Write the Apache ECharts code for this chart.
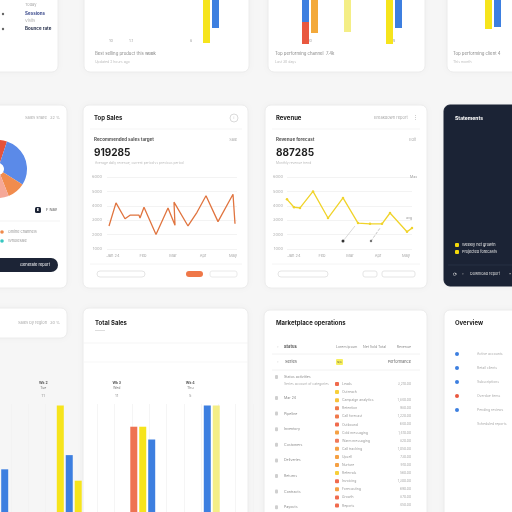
<!DOCTYPE html>
<html><head><meta charset="utf-8">
<script src="https://cdn.jsdelivr.net/npm/echarts@6/dist/echarts.min.js"></script>
<style>html,body{margin:0;padding:0;background:#f6f6f6}#c{width:512px;height:512px}</style>
</head><body><div id="c"></div>
<script>
// ---------- data ----------
const salesX = [0.4,1.8,3.6,4.6,6.4,6.6,7.4,9.8,12.2,13.6,13.4,16.2,18,19.8,22.2,25.2,25.6];
const salesY = [2600,4200,3100,3350,3350,3150,3900,2000,3850,2650,4250,2600,3550,4700,2900,4800,2750];
const salesMonths = ['Jan 24','Feb','Mar','Apr','May'];

const revenueX = [0,1.4,2.6,5.2,8.2,11.2,14.2,16.6,19,20.6,24,25];
const revenueY = [4450,3900,3850,5000,3150,4550,2800,2750,2750,3500,2200,2450];
const revenueMonths = ['Jan 24','Feb','Mar','Apr','May'];
const noteA = [[11.2,1550],[13.6,2600]];
const noteB = [[16.8,1550],[18.6,2450]];

const weekCats = ['Wk 1','Wk 2','Wk 3','Wk 4'];
const weekSubs = ['Mon','Tue','Wed','Thu'];
const weekNotes = ['10','11','11','5'];
const weekA = [70, 99, 84, 99];
const weekB = [null, 64, 84, 99];
const weekC = [54, 46, 75, null];

const topBCats = ['10','1.1','','','8','',''];
const topBLeft = [null,null,null,null,null,43,null];
const topBRight = [null,null,null,null,null,28,null];
const topCCats = ['10','','9'];
const topCLeft = [22,32,44];
const topCStack = [22,null,null];
const topCRight = [33,null,28];
const topDCats = [''];
const topDLeft = [29];
const topDRight = [27];

const pieNames = ['Direct','Online','Retail','Partners','Other'];
const pieVals = [5, 29, 10, 7, 49];

// ---------- styles ----------
const BLUE = '#3d7fe0', YELLOW = '#f6e41c', ORANGE = '#ee7352', PALE = '#f4ee86', AMBER = '#f3a93a', RED = '#e9583f';
const weekAColors = [BLUE, YELLOW, ORANGE, BLUE];
const weekBColors = [BLUE, BLUE, YELLOW, PALE];
const weekCColors = [BLUE, YELLOW, BLUE, YELLOW];
const topCLeftColors = [BLUE, PALE, YELLOW];
const topCRightColors = [AMBER, AMBER, BLUE];
const pieColors = ['#e5533b','#5b8ae8','#f18c4e','#f5a898','#f8cdb8'];
const FONT = 'Inter, "Noto Sans", sans-serif';

// ---------- graphic helpers ----------
const G = [];
function card(x,y,w,h,fill,stroke,r){G.push({type:'rect',z:-10,shape:{x:x,y:y,width:w,height:h,r:r==null?6:r},style:{fill:fill||'#ffffff',stroke:stroke||'#ececec',lineWidth:1,shadowBlur:8,shadowColor:'rgba(0,0,0,0.035)'}});}
function box(x,y,w,h,fill,stroke,r){G.push({type:'rect',z:40,shape:{x:x,y:y,width:w,height:h,r:r||0},style:{fill:fill||'none',stroke:stroke||null,lineWidth:0.8}});}
function t(x,y,text,size,color,weight,align){G.push({type:'text',z:50,x:x,y:y,style:{text:text,fill:color||'#999',font:(weight||'normal')+' '+(size||4.5)+'px '+FONT,textAlign:align||'left',textVerticalAlign:'middle',align:align||'left',verticalAlign:'middle'}});}
function dot(cx,cy,r,fill,stroke){G.push({type:'circle',z:45,shape:{cx:cx,cy:cy,r:r},style:{fill:fill||'none',stroke:stroke||null,lineWidth:0.8}});}
function hline(x1,x2,y,c){G.push({type:'line',z:30,shape:{x1:x1,y1:y,x2:x2,y2:y},style:{stroke:c||'#f0f0f0',lineWidth:0.8}});}

// top row cards
card(-10,-10,68,82); card(84,-10,165,82); card(268,-10,157,82); card(447,-10,80,82);
t(25,5,'Today',4,'#aaa'); t(25,14,'Sessions',4.5,'#3b4a8c','bold'); t(25,21,'Visits',4,'#aaa'); t(25,29,'Bounce rate',4.5,'#2c3550','bold');
dot(3,14,1.2,'#666'); dot(3,29,1.2,'#666');
t(95,54,'Best selling product this week',4.3,'#888'); t(147,54,'1.4k',4,'#aaa');
t(95,62,'Updated 2 hours ago',3.5,'#bbb');
t(275,54,'Top performing channel  7.4k',4.3,'#888'); t(275,62,'Last 30 days',3.5,'#bbb');
t(453,54,'Top performing client 4',4.3,'#888'); t(453,62,'This month',3.5,'#bbb');

// middle row
card(-10,105,77,183);
t(25,118,'Sales share',4,'#aaa'); t(50,118,'32 %',4,'#aaa');
box(35,207,6,6,'#1c2436',null,1.5); t(38,210,'E',4,'#fff','bold','center'); t(46,210,'F Nav',4,'#555');
hline(-10,60,221,'#f0f0f0');
dot(2,232,1.8,'#f08a4b'); t(8,232,'Online channels',3.8,'#999');
dot(2,241,1.8,'#36c6c0'); t(8,241,'Wholesale',3.8,'#999');
box(-10,258,68,14,'#1c2436',null,7); t(35,265,'Generate report',4,'#fff','normal','center');

card(83,105,165,183);
t(94,118,'Top Sales',6,'#222','bold'); dot(234,118,4,null,'#d0d0d0'); t(234,118,'i',3.5,'#bbb','normal','center');
hline(90,242,129,'#f3f3f3');
t(94,140,'Recommended sales target',4.5,'#555','bold'); t(237,140,'Sale',3.8,'#aaa','normal','right');
t(94,153,'919285',10,'#1f1f1f','bold');
t(95,163,'Average daily revenue, current period vs previous period',3.3,'#bbb');
hline(90,242,264,'#f1f1f1');
box(97,271,48,6,'#fff','#dedede',3); box(186,271,17,6,'#ef7748',null,3); box(210,271,27,6,'#fff','#e4e4e4',2);

card(265,105,162,183);
t(276,118,'Revenue',6,'#222','bold'); t(374,118,'Breakdown report',4,'#aaa'); t(413,118,'⋮',4.5,'#aaa');
hline(272,420,129,'#f3f3f3');
t(276,140,'Revenue forecast',4.5,'#555','bold'); t(416,140,'Edit',3.8,'#aaa','normal','right');
t(276,153,'887285',10,'#1f1f1f','bold');
t(276,163,'Monthly revenue trend',3.3,'#bbb');
t(410,177,'Max',3.5,'#999'); t(406,218,'avg',3.5,'#999');
hline(272,420,264,'#f1f1f1');
box(278,271,50,6,'#fff','#dedede',3); box(363,271,14,6,'#fff','#dedede',2); box(382,271,33,6,'#fff','#dedede',2);

card(444,105,80,181,'#1b2335','#1b2335',6);
t(455,118,'Statements',5,'#fff','bold');
box(455,243,4,4,'#f5d90a',null,1); t(462,245,'Weekly net growth',3.8,'#e8e8e8');
box(455,250,4,4,'#f5d90a',null,1); t(462,252,'Projected forecasts',3.8,'#e8e8e8');
hline(448,512,265,'#2a3347');
t(453,274,'⟳',5,'#ddd'); t(462,274,'▫',4.5,'#aaa'); t(470,274,'Download report',3.8,'#ddd'); t(509,274,'▪',4,'#aaa');

// bottom row
card(-10,308,77,30);
t(18,323,'Sales by region',4,'#aaa'); t(50,323,'30 %',4,'#aaa');
card(83,308,165,214);
t(95,323,'Total Sales',6,'#222','bold'); box(95,330,10,1,'#ddd');
hline(83,248,343,'#f2f2f2'); hline(83,248,362,'#f5f5f5');

card(264,310,163,212);
t(276,323,'Marketplace operations',6,'#222','bold');
t(277,347,'▫',4,'#ccc'); t(284,347,'Status',4,'#555','bold');
t(336,347,'Lorem ipsum',3.5,'#888'); t(363,347,'Net Sold',3.5,'#888'); t(378,347,'Total',3.5,'#888'); t(411,347,'Revenue',3.5,'#888','normal','right');
hline(272,420,354,'#efefef');
t(277,362,'▫',4,'#ccc'); t(285,362,'Series',4,'#555');
box(336,359,7,6,'#f7ef5c',null,1); t(339.5,362,'N/A',2.5,'#555','normal','center'); t(411,362,'Performance',3.8,'#666','normal','right');
hline(272,420,370,'#efefef');
const leftRows = ['Status activities','Mar 24','Pipeline','Inventory','Customers','Deliveries','Returns','Contracts','Payouts'];
leftRows.forEach(function(s,i){const y = i===0 ? 377 : 398 + 15.6*(i-1); box(275,y-2,3,4,'#cfcfcf',null,1); t(284,y,s,3.6,'#888');});
t(284,384,'Series account of categories',3.3,'#aaa');
const itemNames = ['Leads','Outreach','Campaign analytics','Retention','Call forecast','Outbound','Cold messaging','Warm messaging','Call tracking','Upsell','Nurture','Referrals','Invoicing','Forecasting','Growth','Reports'];
const itemVals = ['3,210.00','','1,840.00','980.00','1,220.00','640.00','1,410.00','820.00','1,050.00','730.00','910.00','560.00','1,300.00','690.00','870.00','450.00'];
const itemColors = ['#f06a4d','#f7cf3a','#f7c23a','#f0784a','#f0784a','#f06a4d','#f5a043','#f07a5a','#f5a043','#f5a043','#f5a043','#f7cf3a','#f06a4d','#f5a043','#f06a4d','#f06a4d'];
itemNames.forEach(function(s,i){const y = 384 + 8.1*i; box(335,y-2,4,4,itemColors[i],null,1); t(342,y,s,3.4,'#999'); if(itemVals[i]) t(411,y,itemVals[i],3.3,'#aaa','normal','right');});

card(444,310,80,212);
t(455,323,'Overview',6,'#222','bold');
const ovNames = ['Active accounts','Retail clients','Subscriptions','Overdue items','Pending reviews','Scheduled reports'];
const ovColors = [BLUE,BLUE,BLUE,RED,BLUE,null];
ovNames.forEach(function(s,i){const y = 354 + 14*i; if(ovColors[i]) dot(457,y,2,ovColors[i]); t(477,y,s,3.4,'#aaa');});

// ---------- chart ----------
const chart = echarts.init(document.getElementById('c'), null, {renderer:'canvas'});
function lineY(idx, margin){return {gridIndex:idx,type:'value',min:1000,max:6000,interval:1000,axisLine:{show:false},axisTick:{show:false},axisLabel:{fontSize:4,color:'#b0b0b0',margin:margin,fontFamily:FONT,formatter:function(v){return String(v);}},splitLine:{lineStyle:{color:'#f0f0f0',width:0.8}}};}
function catX(idx, data){return {gridIndex:idx,type:'category',data:data,axisLine:{show:false},axisTick:{show:false},axisLabel:{fontSize:4,color:'#aaa',margin:5,fontFamily:FONT,interval:0}};}
function topX(idx, data){return {gridIndex:idx,type:'category',data:data,position:'bottom',axisLine:{show:false,onZero:false},axisTick:{show:false},axisLabel:{fontSize:4,color:'#aaa',margin:3,fontFamily:FONT,interval:0}};}
function topY(idx){return {gridIndex:idx,type:'value',inverse:true,min:0,max:36,show:false};}
function colorFn(arr){return function(p){return arr[p.dataIndex];};}
function bar(xi, data, colors, extra){return Object.assign({type:'bar',xAxisIndex:xi,yAxisIndex:xi,data:data,barWidth:7,barGap:'28%',clip:false,itemStyle:{color:typeof colors==='string'?colors:colorFn(colors)}}, extra||{});}
const GB = {outerBoundsMode:'none', containLabel:false};

chart.setOption({
  backgroundColor:'#f6f6f6',
  animation:false,
  graphic:{elements:G},
  grid:[
    Object.assign({left:107,top:177,width:130,height:72},GB),
    Object.assign({left:98,top:177,width:150,height:72},GB),
    Object.assign({left:287,top:177,width:125,height:72},GB),
    Object.assign({left:280,top:177,width:140,height:72},GB),
    Object.assign({left:-41,top:404,width:294,height:142},GB),
    Object.assign({left:101,top:0,width:140,height:36},GB),
    Object.assign({left:289,top:0,width:126,height:36},GB),
    Object.assign({left:472,top:0,width:42,height:36},GB)
  ],
  xAxis:[
    {gridIndex:0,type:'value',min:0,max:26,show:false},
    catX(1,salesMonths),
    {gridIndex:2,type:'value',min:0,max:25,show:false},
    catX(3,revenueMonths),
    {gridIndex:4,type:'category',data:weekCats,position:'top',axisLine:{show:false},axisTick:{show:false},
      axisLabel:{interval:0,margin:2,padding:[0,52,0,0],fontFamily:FONT,
        formatter:function(v,i){return '{h|'+v+'}\n{s|'+weekSubs[i]+'}\n{n|'+weekNotes[i]+'}';},
        rich:{h:{fontSize:3.5,fontWeight:'bold',color:'#555',lineHeight:5},s:{fontSize:3.5,color:'#777',lineHeight:5},n:{fontSize:4,color:'#999',lineHeight:12}}}},
    topX(5,topBCats), topX(6,topCCats), topX(7,topDCats),
    {gridIndex:4,type:'value',position:'bottom',min:0,max:17,interval:1,axisLine:{show:false},axisTick:{show:false},axisLabel:{show:false},splitLine:{show:true,lineStyle:{color:'#f3f3f3',width:0.8}}}
  ],
  yAxis:[
    lineY(0,5), {gridIndex:1,type:'value',show:false},
    lineY(2,4), {gridIndex:3,type:'value',show:false},
    {gridIndex:4,type:'value',min:0,max:100,show:false},
    topY(5), topY(6), topY(7)
  ],
  series:[
    {type:'line',xAxisIndex:0,yAxisIndex:0,data:salesX.map(function(x,i){return [x,salesY[i]];}),showSymbol:false,lineStyle:{color:'#e0743f',width:1.3},itemStyle:{color:'#e0743f'}},
    {type:'line',xAxisIndex:2,yAxisIndex:2,data:revenueX.map(function(x,i){return [x,revenueY[i]];}),symbol:'circle',symbolSize:2.5,lineStyle:{color:'#f0d32a',width:1.3},itemStyle:{color:'#f0d32a'}},
    {type:'line',xAxisIndex:2,yAxisIndex:2,data:noteA,symbol:'circle',symbolSize:function(v,p){return p.dataIndex===0?3:0;},lineStyle:{color:'#c8c8c8',width:0.7},itemStyle:{color:'#333'}},
    {type:'line',xAxisIndex:2,yAxisIndex:2,data:noteB,symbol:'circle',symbolSize:function(v,p){return p.dataIndex===0?2.5:0;},lineStyle:{color:'#aaa',width:0.7,type:'dashed'},itemStyle:{color:'#777'}},
    bar(4,weekA,weekAColors), bar(4,weekB,weekBColors), bar(4,weekC,weekCColors),
    bar(5,topBLeft,YELLOW), bar(5,topBRight,BLUE),
    bar(6,topCLeft,topCLeftColors,{stack:'c'}), bar(6,topCStack,RED,{stack:'c'}), bar(6,topCRight,topCRightColors),
    bar(7,topDLeft,YELLOW), bar(7,topDRight,BLUE),
    {type:'pie',center:[-2,169],radius:[6,29],startAngle:90,label:{show:false},labelLine:{show:false},
      itemStyle:{color:colorFn(pieColors)},
      data:pieVals.map(function(v,i){return {name:pieNames[i],value:v};})}
  ]
});
</script>
</body></html>
